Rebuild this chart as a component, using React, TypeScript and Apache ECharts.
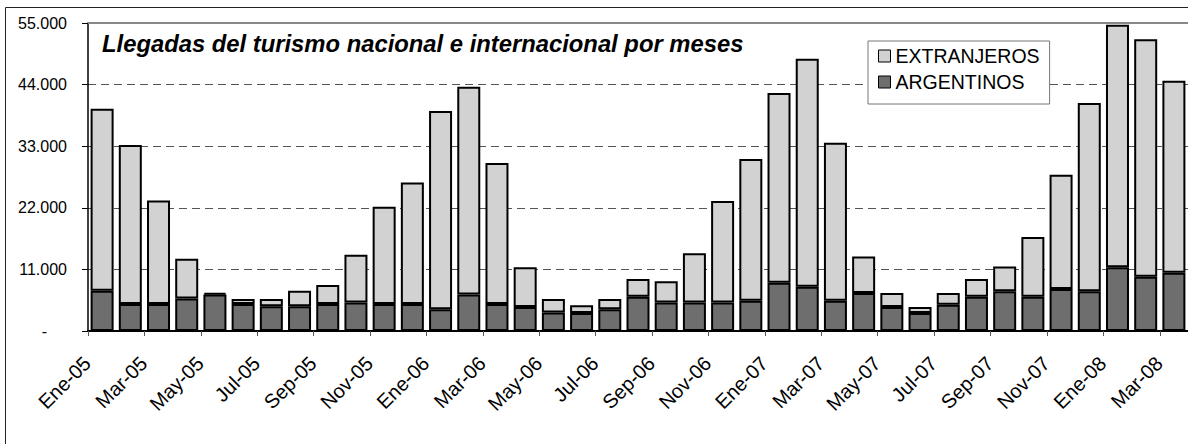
import React, { useEffect, useRef } from 'react';
import * as echarts from 'echarts';

const categories = [
  'Ene-05', 'Feb-05', 'Mar-05', 'Abr-05', 'May-05', 'Jun-05', 'Jul-05', 'Ago-05', 'Sep-05', 'Oct-05', 'Nov-05', 'Dic-05',
  'Ene-06', 'Feb-06', 'Mar-06', 'Abr-06', 'May-06', 'Jun-06', 'Jul-06', 'Ago-06', 'Sep-06', 'Oct-06', 'Nov-06', 'Dic-06',
  'Ene-07', 'Feb-07', 'Mar-07', 'Abr-07', 'May-07', 'Jun-07', 'Jul-07', 'Ago-07', 'Sep-07', 'Oct-07', 'Nov-07', 'Dic-07',
  'Ene-08', 'Feb-08', 'Mar-08',
];

const argentinos = [
  7200, 4800, 4800, 5800, 6500, 4800, 4400, 4400, 4800, 5100, 4800, 4800,
  3900, 6500, 4800, 4300, 3300, 3200, 3900, 6100, 5100, 5100, 5100, 5400,
  8600, 7900, 5400, 6800, 4300, 3200, 4700, 6100, 7100, 6100, 7500, 7100,
  11400, 9700, 10400,
];

const extranjeros = [
  32500, 28400, 18500, 7100, 300, 900, 1300, 2800, 3400, 8500, 17400, 21700,
  35400, 37100, 25200, 7100, 2400, 1400, 1800, 3200, 3800, 8800, 18100, 25300,
  33900, 40700, 28200, 6500, 2500, 1100, 2100, 3200, 4400, 10700, 20400, 33600,
  43300, 42400, 34300,
];

const yTicks = [0, 11000, 22000, 33000, 44000, 55000];

const FONT = 'Liberation Sans, Arial, sans-serif';

export default function App() {
  const ref = useRef<HTMLDivElement>(null);

  useEffect(() => {
    if (!ref.current) return;
    const chart = echarts.init(ref.current, null, { renderer: 'svg' });
    const fmt = (v: number) => {
      if (v === 0) return '{z|-}';
      return String(v).replace(/\B(?=(\d{3})+(?!\d))/g, '.');
    };
    chart.setOption({
      animation: false,
      backgroundColor: '#ffffff',
      textStyle: { fontFamily: FONT },
      title: {
        text: 'Llegadas del turismo nacional e internacional por meses',
        left: 102,
        top: 31,
        padding: 0,
        textStyle: {
          fontFamily: FONT,
          fontStyle: 'italic',
          fontWeight: 'bold',
          fontSize: 23.8,
          color: '#000',
        },
      },
      legend: {
        data: ['EXTRANJEROS', 'ARGENTINOS'],
        orient: 'vertical',
        left: 868,
        top: 41,
        padding: [5, 10, 12, 10],
        itemWidth: 12,
        itemHeight: 12,
        itemGap: 6,
        borderColor: '#777',
        borderWidth: 1,
        backgroundColor: '#fff',
        icon: 'rect',
        itemStyle: { borderColor: '#000', borderWidth: 1 },
        textStyle: { fontFamily: FONT, fontSize: 19.5, color: '#000', lineHeight: 20 },
      },
      grid: { left: 88, top: 23, right: 0, bottom: 113, containLabel: false },
      xAxis: {
        type: 'category',
        data: categories,
        boundaryGap: true,
        axisLine: { lineStyle: { color: '#000', width: 2 } },
        axisTick: { show: true, interval: 1, length: 5, lineStyle: { color: '#555', width: 1 } },
        axisLabel: {
          interval: 1,
          rotate: 45,
          fontSize: 20,
          color: '#000',
          fontFamily: FONT,
          margin: 14,
          padding: [0, 21, 0, 0],
        },
      },
      yAxis: {
        type: 'value',
        min: yTicks[0],
        max: yTicks[yTicks.length - 1],
        interval: 11000,
        axisLine: { show: true, lineStyle: { color: '#000', width: 1.5 } },
        axisTick: { show: true, length: 6, lineStyle: { color: '#000' } },
        axisLabel: {
          formatter: fmt,
          fontSize: 16,
          color: '#000',
          fontFamily: FONT,
          margin: 21,
          rich: { z: { fontSize: 16, padding: [0, 20, 0, 0], color: '#000' } },
        },
        splitLine: { show: true, lineStyle: { type: [8, 5], color: '#555', width: 1 } },
      },
      series: [
        {
          name: 'ARGENTINOS',
          type: 'bar',
          stack: 'total',
          data: argentinos,
          barWidth: 23,
          itemStyle: { color: '#6e6e6e', borderColor: '#000', borderWidth: 2 },
          markLine: {
            silent: true,
            symbol: 'none',
            label: { show: false },
            lineStyle: { type: 'solid', color: '#888', width: 2 },
            data: [{ yAxis: yTicks[yTicks.length - 1] }],
          },
        },
        {
          name: 'EXTRANJEROS',
          type: 'bar',
          stack: 'total',
          data: extranjeros,
          barWidth: 23,
          itemStyle: { color: '#d2d2d2', borderColor: '#000', borderWidth: 2 },
        },
      ],
      graphic: [
        {
          type: 'rect',
          silent: true,
          shape: { x: 5.5, y: 7.5, width: 1400, height: 800 },
          style: { fill: 'none', stroke: '#222', lineWidth: 1 },
          z: 10,
        },
      ],
    });
    return () => chart.dispose();
  }, []);

  return (
    <div
      ref={ref}
      style={{ position: 'fixed', left: 0, top: 0, width: 1188, height: 444 }}
    />
  );
}
